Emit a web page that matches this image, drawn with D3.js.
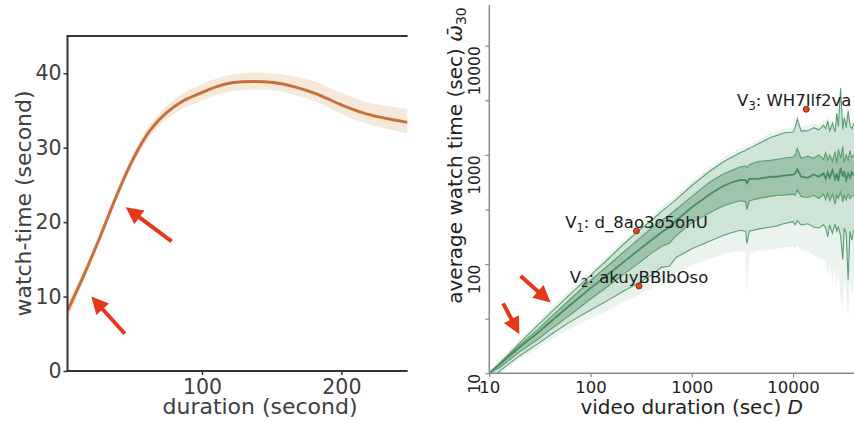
<!DOCTYPE html>
<html>
<head>
<meta charset="utf-8">
<script src="https://cdn.jsdelivr.net/npm/d3@7/dist/d3.min.js"></script>
<style>
  body { margin: 0; background: #fff; }
  svg { display: block; font-family: "DejaVu Sans", sans-serif; }
</style>
</head>
<body>
<svg id="chart" width="854" height="422"></svg>
<script>
// ---- left panel: mean watch-time vs duration
var dur_left   = [3.6, 14.6, 26.6, 38.6, 50.6, 62.6, 74.6, 86.6, 98.6, 110.6, 122.5, 136.9, 151.3, 165.7, 182.5, 199.3, 218.5, 247.5];
var watch_left = [8.1, 12.6, 17.9, 23.5, 28.5, 32.3, 34.7, 36.3, 37.3, 38.2, 38.75, 38.9, 38.75, 38.2, 37.2, 35.8, 34.5, 33.4];
var watch_lo   = [6.8, 11.9, 17.3, 22.9, 27.8, 31.5, 33.8, 35.3, 36.2, 37.1, 37.6, 37.8, 37.7, 37.1, 36.1, 34.6, 33.2, 31.9];
var watch_hi   = [9.4, 13.2, 18.5, 24.1, 29.2, 33.1, 35.6, 37.3, 38.4, 39.3, 39.85, 40.1, 40.0, 39.6, 38.8, 37.4, 36.1, 35.2];
var ticks_left_x = [100, 200];
var ticks_left_y = [0, 10, 20, 30, 40];
var arrow_left_from = [[44.6, 5.0], [78.2, 17.4]];
var arrow_left_to   = [[20.6, 10.0], [45.3, 22.0]];

// ---- right panel: quantiles of watch time vs duration (log-log)
var dur_right = [10, 13, 20, 30, 40, 60, 100, 150, 200, 300, 400, 500, 600, 700, 1000, 1500, 2000, 2500, 3000, 3400, 3500, 3700, 4500, 6000, 7000, 8000, 10000, 10500, 11000, 12000, 14000, 16000, 18000, 20000, 21000, 22000, 23000, 24500, 26000, 27000, 28000, 29500, 31000, 32000, 33500, 35000, 36500, 38000, 40000];
var p02 = [8, 10, 13.5, 17, 20, 25, 32, 38, 44, 52, 60, 69, 71, 83, 98, 112, 123, 129, 132, 129, 54, 126, 132, 135, 138, 141, 145, 135, 148, 135, 132, 120, 115, 110, 105, 80, 100, 70, 95, 60, 85, 50, 40, 75, 55, 32, 70, 50, 80];
var p10 = [8.5, 10.7, 14.5, 18.6, 22.4, 28.8, 38, 46.8, 55, 67.6, 79.4, 93.3, 95.5, 115, 138, 162, 182, 195, 204, 200, 155, 200, 209, 219, 224, 234, 245, 229, 251, 229, 234, 219, 214, 229, 214, 178, 229, 191, 234, 200, 219, 182, 110, 214, 191, 71, 200, 166, 209];
var p25 = [10, 11.5, 15.8, 20.4, 25.1, 33.1, 47.9, 63.1, 77.6, 102, 126, 145, 155, 182, 240, 295, 339, 363, 380, 372, 316, 380, 398, 417, 427, 427, 437, 427, 479, 417, 407, 427, 398, 437, 389, 447, 380, 437, 355, 427, 398, 457, 372, 427, 389, 437, 398, 417, 427];
var p50 = [10, 12.3, 17.4, 23.4, 29.5, 40.7, 60.3, 81.3, 100, 135, 166, 195, 219, 251, 331, 437, 513, 562, 589, 589, 550, 603, 603, 631, 631, 646, 661, 676, 741, 631, 617, 661, 631, 676, 603, 692, 617, 724, 603, 676, 575, 759, 631, 708, 589, 676, 617, 692, 646];
var p75 = [10, 12.6, 18.2, 25.1, 32.4, 45.7, 70.8, 97.7, 123, 170, 214, 251, 282, 316, 417, 562, 661, 724, 776, 794, 759, 813, 871, 891, 912, 933, 955, 1000, 1148, 933, 977, 933, 1000, 912, 1047, 891, 1000, 871, 1072, 832, 1122, 933, 1202, 851, 1000, 891, 1096, 955, 1000];
var p90 = [10, 12.7, 19, 27.5, 35.5, 51, 79, 112, 145, 204, 251, 302, 347, 389, 525, 708, 851, 955, 1047, 1096, 1122, 1148, 1259, 1445, 1514, 1585, 1622, 1778, 2138, 1660, 1660, 1778, 1698, 1862, 1738, 2042, 1660, 1950, 1622, 2399, 1820, 4074, 1698, 2188, 1778, 2512, 1862, 1738, 1950];
var p98 = [10.5, 13.6, 20.5, 29.5, 38.5, 56, 86, 122, 158, 222, 275, 331, 380, 427, 575, 776, 933, 1047, 1148, 1202, 1230, 1259, 1380, 1585, 1660, 1738, 1778, 1950, 2344, 1820, 1862, 1950, 1905, 2089, 1950, 2344, 1905, 2188, 1862, 2754, 2089, 4467, 1995, 2512, 2089, 2884, 2138, 2000, 2239];
var ticks_right_x = [10, 100, 1000, 10000];
var ticks_right_y = [10, 100, 1000, 10000];
var minor_right_y = [31.6, 316, 3162];
var video_ids   = ["d_8ao3o5ohU", "akuyBBIbOso", "WH7Ilf2va"];
var video_subs  = ["1", "2", "3"];
var video_dur   = [284, 301, 13500];
var video_watch = [201, 63, 2620];
var label_shift = [0, 0, -12];
var arrow_right_from = [[13.7, 43.7], [20.4, 77.9]];
var arrow_right_to   = [[19.8, 22.8], [40.3, 44.4]];

var svg = d3.select("#chart");

var draw_arrow = function (g, x0, y0, x1, y1) {
  var dx = x1 - x0, dy = y1 - y0;
  var len = Math.sqrt(dx * dx + dy * dy);
  var ux = dx / len, uy = dy / len;
  var head = 17, half = 8.5;
  var bx = x1 - ux * head, by = y1 - uy * head;
  g.append("line")
    .attr("x1", x0).attr("y1", y0)
    .attr("x2", bx + ux * 2).attr("y2", by + uy * 2)
    .attr("stroke", "#e5381a")
    .attr("stroke-width", 4);
  g.append("path")
    .attr("d", "M" + x1 + "," + y1 +
      "L" + (bx - uy * half) + "," + (by + ux * half) +
      "L" + (bx + uy * half) + "," + (by - ux * half) + "Z")
    .attr("fill", "#e5381a");
};

// ================= left panel
var xl = d3.scaleLinear().domain([3.5, 247.5]).range([67.5, 407.6]);
var yl = d3.scaleLinear().domain([0, 45]).range([371, 36]);

svg.append("clipPath").attr("id", "clip_left")
  .append("rect").attr("x", 67.5).attr("y", 36).attr("width", 340).attr("height", 335);

var gl = svg.append("g").attr("clip-path", "url(#clip_left)");
var left_rows = dur_left.map((d, i) => ({ x: d, y: watch_left[i], lo: watch_lo[i], hi: watch_hi[i] }));

gl.append("path")
  .datum(left_rows)
  .attr("fill", "#f6e8db")
  .attr("d", d3.area().curve(d3.curveCatmullRom.alpha(0.5))
    .x(d => xl(d.x)).y0(d => yl(d.lo)).y1(d => yl(d.hi)));

gl.append("path")
  .datum(left_rows)
  .attr("fill", "none")
  .attr("stroke", "#c8703a")
  .attr("stroke-width", 3)
  .attr("d", d3.line().curve(d3.curveCatmullRom.alpha(0.5)).x(d => xl(d.x)).y(d => yl(d.y)));

var ax_left_y = svg.append("g")
  .attr("transform", "translate(67.5,0)")
  .call(d3.axisLeft(yl).tickValues(ticks_left_y).tickSize(4).tickPadding(2));
var ax_left_x = svg.append("g")
  .attr("transform", "translate(0,371)")
  .call(d3.axisBottom(xl).tickValues(ticks_left_x).tickSize(4).tickPadding(4));
[ax_left_y, ax_left_x].forEach(function (a) {
  a.select(".domain").remove();
  a.selectAll("line").attr("stroke", "#333").attr("stroke-width", 1.5);
  a.selectAll("text").attr("font-size", 20.5).attr("fill", "#404040")
    .attr("font-family", "DejaVu Sans");
});

// spines
svg.append("path")
  .attr("d", "M407.6,36H67.5V371H407.6")
  .attr("fill", "none")
  .attr("stroke", "#333")
  .attr("stroke-width", 2);

svg.append("text")
  .attr("transform", "translate(31,203.5) rotate(-90)")
  .attr("text-anchor", "middle")
  .attr("font-size", 21)
  .attr("textLength", 226)
  .attr("lengthAdjust", "spacingAndGlyphs")
  .attr("fill", "#404040")
  .text("watch-time (second)");
svg.append("text")
  .attr("x", 260).attr("y", 414)
  .attr("text-anchor", "middle")
  .attr("font-size", 20.6)
  .attr("textLength", 195)
  .attr("lengthAdjust", "spacingAndGlyphs")
  .attr("fill", "#404040")
  .text("duration (second)");

var arrows_l = svg.append("g");
arrow_left_from.forEach(function (f, i) {
  var t = arrow_left_to[i];
  draw_arrow(arrows_l, xl(f[0]), yl(f[1]), xl(t[0]), yl(t[1]));
});

// ================= right panel
var xr = d3.scaleLog().domain([10, 40000]).range([489.3, 854]);
var yr = d3.scaleLog().domain([10, 23600]).range([373.3, 5]);

svg.append("clipPath").attr("id", "clip_right")
  .append("rect").attr("x", 489.3).attr("y", 5).attr("width", 364.7).attr("height", 368.3);

var gr = svg.append("g").attr("clip-path", "url(#clip_right)");
var right_rows = dur_right.map((d, i) => ({
  x: d, p02: p02[i], p10: p10[i], p25: p25[i], p50: p50[i], p75: p75[i], p90: p90[i], p98: p98[i]
}));

var green = "#3f8e5c";
var bands = [["p02", "p98", 0.11], ["p10", "p90", 0.15], ["p25", "p75", 0.34]];
bands.forEach(function (b) {
  gr.append("path")
    .datum(right_rows)
    .attr("fill", green)
    .attr("fill-opacity", b[2])
    .attr("d", d3.area().x(d => xr(d.x)).y0(d => yr(d[b[0]])).y1(d => yr(d[b[1]])));
});

["p10", "p25", "p75", "p90", "p50"].forEach(function (k) {
  gr.append("path")
    .datum(right_rows)
    .attr("fill", "none")
    .attr("stroke", k == "p50" ? "#4a8d62" : "#5e9e74")
    .attr("stroke-width", k == "p50" ? 1.8 : 1.1)
    .attr("d", d3.line().x(d => xr(d.x)).y(d => yr(d[k])));
});

// axes
var ax_right_y = svg.append("g")
  .attr("transform", "translate(489.3,0)")
  .call(d3.axisLeft(yr).tickValues(ticks_right_y).tickFormat(d3.format("d")).tickSize(4));
var ax_right_minor = svg.append("g")
  .attr("transform", "translate(489.3,0)")
  .call(d3.axisLeft(yr).tickValues(minor_right_y).tickFormat("").tickSize(4));
var ax_right_x = svg.append("g")
  .attr("transform", "translate(0,373.3)")
  .call(d3.axisBottom(xr).tickValues(ticks_right_x).tickFormat(d3.format("d")).tickSize(4).tickPadding(4));
[ax_right_y, ax_right_minor, ax_right_x].forEach(function (a) {
  a.select(".domain").remove();
  a.selectAll("line").attr("stroke", "#8a8a8a").attr("stroke-width", 1.2);
  a.selectAll("text").attr("font-size", 16.5).attr("fill", "#222")
    .attr("font-family", "DejaVu Sans");
});
ax_right_y.selectAll("text")
  .attr("x", null).attr("dy", null)
  .attr("font-size", 15.5)
  .attr("transform", "translate(-9,0) rotate(-90)")
  .attr("text-anchor", "end");

svg.append("path")
  .attr("d", "M489.3,5V373.3H854")
  .attr("fill", "none")
  .attr("stroke", "#8a8a8a")
  .attr("stroke-width", 1.5);

// titles
var ty = svg.append("text")
  .attr("transform", "translate(462,155.5) rotate(-90)")
  .attr("text-anchor", "middle")
  .attr("font-size", 20)
  .attr("fill", "#222");
ty.append("tspan").text("average watch time (sec) ");
ty.append("tspan").attr("font-style", "italic").text("\u03c9\u0304");
ty.append("tspan").attr("font-size", 14).attr("dy", 4).text("30");

var tx = svg.append("text")
  .attr("x", 691.7).attr("y", 414)
  .attr("text-anchor", "middle")
  .attr("font-size", 20)
  .attr("fill", "#222");
tx.append("tspan").text("video duration (sec) ");
tx.append("tspan").attr("font-style", "italic").text("D");

// example videos
var vids = svg.append("g");
video_ids.forEach(function (id, i) {
  var cx = xr(video_dur[i]), cy = yr(video_watch[i]);
  var t = vids.append("text")
    .attr("x", cx + label_shift[i]).attr("y", cy - 3)
    .attr("text-anchor", "middle")
    .attr("font-size", 16.5)
    .attr("fill", "#1a1a1a");
  t.append("tspan").text("V");
  t.append("tspan").attr("font-size", 11.5).attr("dy", 4).text(video_subs[i]);
  t.append("tspan").attr("dy", -4).text(": " + id);
  vids.append("circle")
    .attr("cx", cx).attr("cy", cy).attr("r", 3)
    .attr("fill", "#e4441c")
    .attr("stroke", "#6a2410")
    .attr("stroke-width", 0.8);
});

var arrows_r = svg.append("g");
arrow_right_from.forEach(function (f, i) {
  var t = arrow_right_to[i];
  draw_arrow(arrows_r, xr(f[0]), yr(f[1]), xr(t[0]), yr(t[1]));
});
</script>
</body>
</html>
